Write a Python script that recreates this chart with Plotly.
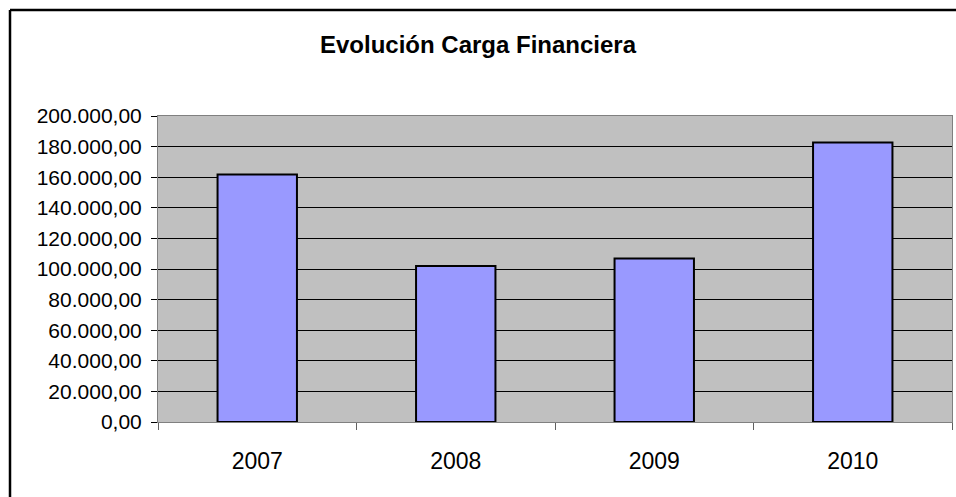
import plotly.graph_objects as go

years = ["2007", "2008", "2009", "2010"]
carga = [161700, 101900, 106900, 182600]
y_ticks = [0, 20000, 40000, 60000, 80000, 100000, 120000, 140000, 160000, 180000, 200000]
y_labels = ["0,00", "20.000,00", "40.000,00", "60.000,00", "80.000,00", "100.000,00",
            "120.000,00", "140.000,00", "160.000,00", "180.000,00", "200.000,00"]

W, H = 956, 497
L, R, T, B = 158, 4, 116, 75
pw, ph = W - L - R, H - T - B

def px(x):
    return (x - L) / pw

def py(y):
    return (H - B - y) / ph

FONT = "Liberation Sans, Arial, sans-serif"

fig = go.Figure(go.Bar(
    x=years, y=carga,
    marker=dict(color="#9999FF", line=dict(color="black", width=2)),
))

fig.update_layout(
    width=W, height=H,
    margin=dict(l=L, r=R, t=T, b=B, pad=0),
    paper_bgcolor="white", plot_bgcolor="#C0C0C0",
    bargap=0.6,
    showlegend=False,
    font=dict(family=FONT, color="black"),
    title=dict(text="<b>Evolución Carga Financiera</b>", x=0.5, xref="container",
               xanchor="center", y=1 - 45 / H, yref="container", yanchor="middle",
               font=dict(size=24, family=FONT, color="black")),
    xaxis=dict(type="category", showgrid=False, showline=True, linecolor="#808080",
               linewidth=1, mirror=True, ticks="outside", tickson="boundaries",
               ticklen=7, tickcolor="#606060", tickfont=dict(size=23, family=FONT),
               ticklabelstandoff=18),
    yaxis=dict(range=[0, 200000], tickvals=y_ticks, ticktext=y_labels,
               showgrid=True, gridcolor="black", gridwidth=1, zeroline=False,
               showline=True, linecolor="#808080", linewidth=1, mirror=True,
               ticks="outside", ticklen=6, tickcolor="black",
               tickfont=dict(size=21, family=FONT), ticklabelstandoff=5),
    shapes=[
        dict(type="line", xref="paper", yref="paper", x0=px(10), x1=px(W + 5),
             y0=py(10), y1=py(10), line=dict(color="black", width=2.5)),
        dict(type="line", xref="paper", yref="paper", x0=px(10), x1=px(10),
             y0=py(10), y1=py(H + 5), line=dict(color="black", width=2.5)),
    ],
)

fig.write_html("out.html", config={"displayModeBar": False},
               post_script="document.body.style.margin='0';document.body.style.overflow='hidden';")
